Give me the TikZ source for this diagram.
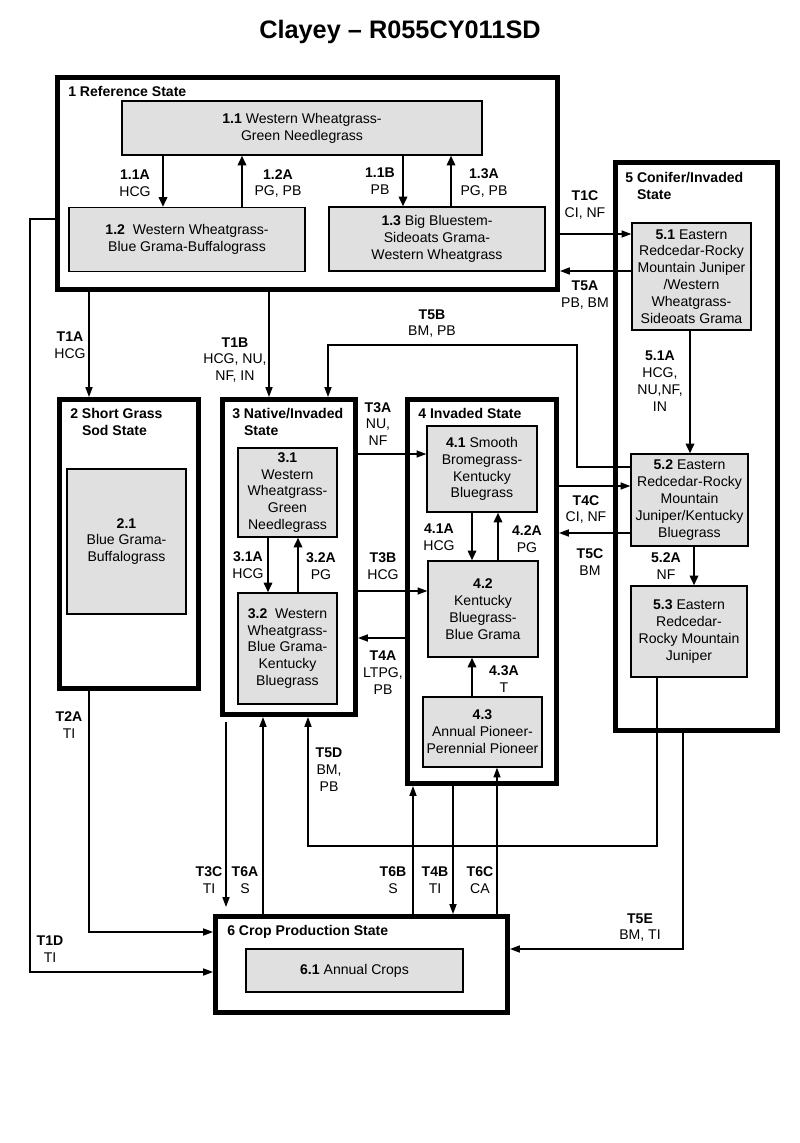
\documentclass[tikz,border=0pt]{standalone}
\usepackage{fontspec}
\setmainfont{Liberation Sans}
\usepackage{tikz}
\usetikzlibrary{arrows.meta}
\newcommand{\px}{0.025cm}
\newcommand{\diagfont}{\fontsize{10}{12}\selectfont}
\definecolor{boxgray}{HTML}{E0E0E0}
\tikzstyle{state}=[draw, line width=3.5pt, inner sep=0]
\tikzstyle{statelabel}=[inner sep=0, align=left, anchor=north west, font=\diagfont\bfseries]
\tikzstyle{community}=[draw, line width=0.9pt, fill=boxgray, inner sep=0, align=center]
\tikzstyle{pathway}=[line width=1.6pt, -{Triangle[length=7pt, width=6pt]}]
\tikzstyle{transition}=[line width=1pt, -{Triangle[length=7pt, width=5pt]}]
\tikzstyle{tlabel}=[inner sep=0, align=center]
\tikzstyle{diagram}=[x=\px, y=-\px,
                     % Same font everywhere unless a style says otherwise.
                     every node/.style={font=\diagfont}]

\begin{document}
\begin{tikzpicture}[diagram]
        \useasboundingbox (0,0) rectangle (800,1143);
        \node[font=\fontsize{18}{21}\selectfont\bfseries] (title) at (400,32) {Clayey – R055CY011SD};

        % States
        \node[state, minimum width=500*\px, minimum height=212*\px] (S1) at (307.5,183.5) {};
        \node[state, minimum width=139*\px, minimum height=289*\px] (S2) at (129,544) {};
        \node[state, minimum width=133*\px, minimum height=315*\px] (S3) at (289,557) {};
        \node[state, minimum width=149*\px, minimum height=384*\px] (S4) at (482,591.5) {};
        \node[state, minimum width=162*\px, minimum height=568*\px] (S5) at (696.5,446.5) {};
        \node[state, minimum width=292*\px, minimum height=96*\px] (S6) at (361.5,964.5) {};
        \node[statelabel] (S1label) at (68,86) {1 Reference State};
        \node[statelabel] (S2label) at (70,408) {2 Short Grass\\\phantom{2 }Sod State};
        \node[statelabel] (S3label) at (232,408) {3 Native/Invaded\\\phantom{3 }State};
        \node[statelabel] (S4label) at (418,408) {4 Invaded State};
        \node[statelabel] (S5label) at (625,172) {5 Conifer/Invaded\\\phantom{5 }State};
        \node[statelabel] (S6label) at (227,925) {6 Crop Production State};

        % Communities
        \node[community, minimum width=360*\px, minimum height=54*\px] (C11) at (302,128) {\textbf{1.1} Western Wheatgrass-\\Green Needlegrass};
        \node[community, minimum width=236*\px, minimum height=64*\px] (C12) at (187,239.5) {\textbf{1.2}\ \ Western Wheatgrass-\\Blue Grama-Buffalograss};
        \node[community, minimum width=216*\px, minimum height=64*\px] (C13) at (437,239) {\textbf{1.3} Big Bluestem-\\Sideoats Grama-\\Western Wheatgrass};
        \node[community, minimum width=119*\px, minimum height=145*\px] (C21) at (126.5,541.5) {\textbf{2.1}\\Blue Grama-\\Buffalograss};
        \node[community, minimum width=99*\px, minimum height=89*\px] (C31) at (287.5,492.5) {\textbf{3.1}\\Western\\Wheatgrass-\\Green\\Needlegrass};
        \node[community, minimum width=99*\px, minimum height=111*\px] (C32) at (287.5,648.5) {\textbf{3.2}\ \ Western\\Wheatgrass-\\Blue Grama-\\Kentucky\\Bluegrass};
        \node[community, minimum width=110*\px, minimum height=86*\px] (C41) at (482,469) {\textbf{4.1} Smooth\\Bromegrass-\\Kentucky\\Bluegrass};
        \node[community, minimum width=110*\px, minimum height=96*\px] (C42) at (483,609) {\textbf{4.2}\\Kentucky\\Bluegrass-\\Blue Grama};
        \node[community, minimum width=119*\px, minimum height=70*\px] (C43) at (482.5,732) {\textbf{4.3}\\Annual Pioneer-\\Perennial Pioneer};
        \node[community, minimum width=119*\px, minimum height=107*\px] (C51) at (691.5,276.5) {\textbf{5.1} Eastern\\Redcedar-Rocky\\Mountain Juniper\\/Western\\Wheatgrass-\\Sideoats Grama};
        \node[community, minimum width=117*\px, minimum height=92*\px] (C52) at (689.5,500) {\textbf{5.2} Eastern\\Redcedar-Rocky\\Mountain\\Juniper/Kentucky\\Bluegrass};
        \node[community, minimum width=116*\px, minimum height=91*\px] (C53) at (689,631.5) {\textbf{5.3} Eastern\\Redcedar-\\Rocky Mountain\\Juniper};
        \node[community, minimum width=217*\px, minimum height=43*\px] (C61) at (354.5,970.5) {\textbf{6.1} Annual Crops};

        % Community pathways
        \coordinate (P11A) at (163,0);
        \coordinate (P12A) at (242,0);
        \coordinate (P11B) at (403,0);
        \coordinate (P13A) at (451,0);
        \coordinate (P31A) at (268,0);
        \coordinate (P32A) at (298,0);
        \coordinate (P41A) at (472,0);
        \coordinate (P42A) at (498,0);
        \coordinate (P51A) at (690,0);
        \coordinate (P52A) at (694,0);
        \draw[pathway] (C11.south -| P11A) -- (C12.north -| P11A);
        \draw[pathway] (C12.north -| P12A) -- (C11.south -| P12A);
        \draw[pathway] (C11.south -| P11B) -- (C13.north -| P11B);
        \draw[pathway] (C13.north -| P13A) -- (C11.south -| P13A);
        \draw[pathway] (C31.south -| P31A) -- (C32.north -| P31A);
        \draw[pathway] (C32.north -| P32A) -- (C31.south -| P32A);
        \draw[pathway] (C41.south -| P41A) -- (C42.north -| P41A);
        \draw[pathway] (C42.north -| P42A) -- (C41.south -| P42A);
        \draw[pathway] (C43.north -| P41A) -- (C42.south -| P41A);
        \draw[pathway] (C51.south -| P51A) -- (C52.north -| P51A);
        \draw[pathway] (C52.south -| P52A) -- (C53.north -| P52A);
        \node[tlabel] (L11A) at (135,183.5) {\textbf{1.1A}\\HCG};
        \node[tlabel] (L12A) at (278,183.5) {\textbf{1.2A}\\PG, PB};
        \node[tlabel] (L11B) at (380,181.5) {\textbf{1.1B}\\PB};
        \node[tlabel] (L13A) at (484,183) {\textbf{1.3A}\\PG, PB};
        \node[tlabel] (L31A) at (248,565.5) {\textbf{3.1A}\\HCG};
        \node[tlabel] (L32A) at (321,566.5) {\textbf{3.2A}\\PG};
        \node[tlabel] (L41A) at (439,537.5) {\textbf{4.1A}\\HCG};
        \node[tlabel] (L42A) at (527,539.5) {\textbf{4.2A}\\PG};
        \node[tlabel] (L43A) at (504,679.5) {\textbf{4.3A}\\T};
        \node[tlabel] (L51A) at (660,381) {\textbf{5.1A}\\HCG,\\NU,NF,\\IN};
        \node[tlabel] (L52A) at (666,566.5) {\textbf{5.2A}\\NF};

        % Transitions
        \coordinate (T1A) at (89,0);
        \coordinate (T1B) at (269,0);
        \coordinate (T1C) at (0,234);
        \coordinate (T5A) at (0,271);
        \coordinate (T1Da) at (30,219);
        \coordinate (T1Db) at (30,972);
        \coordinate (T2Aa) at (89,932);
        \coordinate (T3A) at (0,454);
        \coordinate (T3B) at (0,591);
        \coordinate (T4A) at (0,638);
        \coordinate (T3C) at (226,0);
        \coordinate (T6A) at (263,0);
        \coordinate (T5Da) at (657,846);
        \coordinate (T5Db) at (308,846);
        \coordinate (T5Ba) at (577,467);
        \coordinate (T5Bb) at (577,345);
        \coordinate (T5Bc) at (328,345);
        \coordinate (T4C) at (0,486);
        \coordinate (T5C) at (0,533);
        \coordinate (T6B) at (413,0);
        \coordinate (T4B) at (453,0);
        \coordinate (T6C) at (497,0);
        \coordinate (T5Ea) at (683,949);
        \draw[transition] (S1.south -| T1A) -- (S2.north -| T1A);
        \draw[transition] (S1.south -| T1B) -- (S3.north -| T1B);
        \draw[transition] (S1.east |- T1C) -- (C51.west |- T1C);
        \draw[transition] (C51.west |- T5A) -- (S1.east |- T5A);
        \draw[transition] (S1.west |- T1Da) -- (T1Da) -- (T1Db) -- (S6.west |- T1Db);
        \draw[transition] (S2.south -| T2Aa) -- (T2Aa) -- (S6.west |- T2Aa);
        \draw[transition] (S3.east |- T3A) -- (C41.west |- T3A);
        \draw[transition] (S3.east |- T3B) -- (C42.west |- T3B);
        \draw[transition] (S4.west |- T4A) -- (S3.east |- T4A);
        \draw[transition, shorten <=3.5pt, shorten >=5pt] (S3.south -| T3C) -- (S6.north -| T3C);
        \draw[transition] (S6.north -| T6A) -- (S3.south -| T6A);
        \draw[transition] (C53.south -| T5Da) -- (T5Da) -- (T5Db) -- (S3.south -| T5Db);
        \draw[transition] (C52.west |- T5Ba) -- (T5Ba) -- (T5Bb) -- (T5Bc) -- (S3.north -| T5Bc);
        \draw[transition] (S4.east |- T4C) -- (C52.west |- T4C);
        \draw[transition] (C52.west |- T5C) -- (S4.east |- T5C);
        \draw[transition] (S6.north -| T6B) -- (S4.south -| T6B);
        \draw[transition] (S4.south -| T4B) -- (S6.north -| T4B);
        \draw[transition] (S6.north -| T6C) -- (C43.south -| T6C);
        \draw[transition] (S5.south -| T5Ea) -- (T5Ea) -- (S6.east |- T5Ea);
        \node[tlabel] (LT1A) at (70,345) {\textbf{T1A}\\HCG};
        \node[tlabel] (LT1B) at (235,360) {\textbf{T1B}\\HCG, NU,\\NF, IN};
        \node[tlabel] (LT1C) at (585,205) {\textbf{T1C}\\CI, NF};
        \node[tlabel] (LT5A) at (585,295) {\textbf{T5A}\\PB, BM};
        \node[tlabel] (LT5B) at (432,323.5) {\textbf{T5B}\\BM, PB};
        \node[tlabel] (LT3A) at (378,424) {\textbf{T3A}\\NU,\\NF};
        \node[tlabel] (LT3B) at (383,566.5) {\textbf{T3B}\\HCG};
        \node[tlabel] (LT4A) at (383,673) {\textbf{T4A}\\LTPG,\\PB};
        \node[tlabel] (LT4C) at (586,509.5) {\textbf{T4C}\\CI, NF};
        \node[tlabel] (LT5C) at (590,562.5) {\textbf{T5C}\\BM};
        \node[tlabel] (LT2A) at (69,725) {\textbf{T2A}\\TI};
        \node[tlabel] (LT5D) at (329,770) {\textbf{T5D}\\BM,\\PB};
        \node[tlabel] (LT3C) at (209,880.5) {\textbf{T3C}\\TI};
        \node[tlabel] (LT6A) at (245,880.5) {\textbf{T6A}\\S};
        \node[tlabel] (LT6B) at (393,880.5) {\textbf{T6B}\\S};
        \node[tlabel] (LT4B) at (435,880.5) {\textbf{T4B}\\TI};
        \node[tlabel] (LT6C) at (480,880.5) {\textbf{T6C}\\CA};
        \node[tlabel] (LT5E) at (640,927.5) {\textbf{T5E}\\BM, TI};
        \node[tlabel] (LT1D) at (50,949.5) {\textbf{T1D}\\TI};
    \end{tikzpicture}
\end{document}
